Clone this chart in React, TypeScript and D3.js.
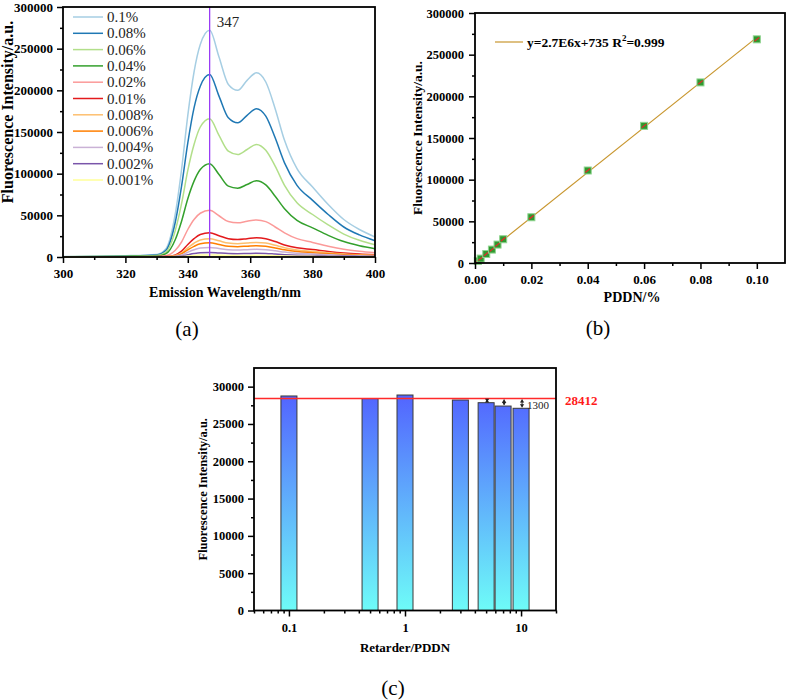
import React, { useEffect, useRef } from 'react';
import * as d3 from 'd3';

const FONT = '"Liberation Serif", "Times New Roman", serif';

// (a) emission spectra, one row per PDDN concentration
const wavelengths = [300, 320, 330, 333, 336, 338, 340, 342, 344, 347, 350, 353, 356, 359, 362, 365, 368, 371, 375, 380, 385, 390, 395, 400];
const spectrumLabels = ['0.1%', '0.08%', '0.06%', '0.04%', '0.02%', '0.01%', '0.008%', '0.006%', '0.004%', '0.002%', '0.001%'];
const spectrumColors = ['#a6cee3', '#1f78b4', '#b2df8a', '#33a02c', '#fb9a99', '#e31a1c', '#fdbf6f', '#ff7f00', '#cab2d6', '#7a55aa', '#ffff99'];
const spectra: number[][] = [
  [500, 1500, 3000, 10000, 52000, 105000, 170000, 222000, 255000, 272000, 240000, 207000, 200000, 212000, 221000, 210000, 178000, 140000, 106000, 84000, 63000, 45000, 33000, 24000],
  [400, 1300, 2500, 8000, 42000, 85000, 137000, 179000, 205000, 219000, 193000, 167000, 161000, 170000, 178000, 169000, 143000, 113000, 86000, 68000, 51000, 36000, 26500, 19500],
  [300, 1000, 1800, 6000, 32000, 64000, 104000, 135000, 156000, 166000, 146000, 127000, 123000, 129000, 135000, 128000, 109000, 86000, 65000, 51000, 38500, 27500, 20000, 14700],
  [200, 700, 1200, 4000, 21000, 43000, 70000, 91000, 105000, 112000, 99000, 85000, 82600, 87000, 91400, 86500, 73000, 58000, 44000, 35000, 26000, 18500, 13500, 10000],
  [100, 400, 600, 1500, 8000, 18000, 33000, 45000, 52500, 56000, 49500, 42500, 41000, 43000, 44500, 42500, 36000, 29000, 22000, 17500, 13000, 9300, 6800, 5000],
  [50, 200, 300, 500, 2500, 7000, 15000, 22000, 27000, 29000, 25500, 22000, 21000, 22000, 23000, 22000, 18500, 14500, 11000, 9000, 6700, 4800, 3500, 2600],
  [40, 150, 250, 400, 1800, 5000, 11000, 16500, 20500, 22000, 19400, 16700, 16000, 16800, 17500, 16700, 14000, 11200, 8500, 6800, 5100, 3700, 2700, 2000],
  [30, 120, 200, 300, 1300, 3800, 8500, 12800, 15800, 17000, 15000, 12900, 12400, 13000, 13600, 12900, 10900, 8700, 6600, 5200, 3900, 2800, 2100, 1500],
  [20, 80, 130, 200, 900, 2500, 5700, 8600, 10700, 11500, 10100, 8700, 8400, 8800, 9200, 8700, 7400, 5900, 4500, 3600, 2700, 1900, 1400, 1000],
  [10, 40, 60, 100, 400, 1200, 2700, 4100, 5100, 5500, 4800, 4200, 4000, 4200, 4400, 4200, 3500, 2800, 2100, 1700, 1300, 900, 700, 500],
  [5, 20, 30, 50, 200, 550, 1200, 1900, 2300, 2500, 2200, 1900, 1800, 1900, 2000, 1900, 1600, 1300, 1000, 800, 600, 400, 300, 250],
];
const peakWavelength = 347;

// (b) calibration
const pddnConc = [0.001, 0.002, 0.004, 0.006, 0.008, 0.01, 0.02, 0.04, 0.06, 0.08, 0.1];
const pddnIntensity = [2400, 5300, 10800, 16100, 22100, 28500, 54900, 111000, 164600, 216700, 268400];
const fitSlope = 2.7e6;
const fitIntercept = 735;

// (c) retarder ratio
const retarderRatio = [0.1, 0.5, 1, 3, 5, 7, 10];
const retarderIntensity = [28750, 28400, 28880, 28210, 27850, 27400, 27100];
const referenceLevel = 28412;
const dropLabel = '1300';

type G = d3.Selection<SVGGElement, unknown, null, undefined>;

function styleAxis(a: G, fontSize: number) {
  a.select('.domain').remove();
  a.selectAll('line').attr('stroke', '#000').attr('stroke-width', 1.5);
  a.selectAll('text')
    .attr('font-family', FONT)
    .attr('font-weight', 'bold')
    .attr('font-size', fontSize)
    .attr('fill', '#000');
}

function frame(g: G, w: number, h: number) {
  g.append('rect')
    .attr('width', w)
    .attr('height', h)
    .attr('fill', 'none')
    .attr('stroke', '#000')
    .attr('stroke-width', 1.8);
}

function drawSpectra(g: G, w: number, h: number) {
  const x = d3.scaleLinear().domain([300, 400]).range([0, w]);
  const y = d3.scaleLinear().domain([0, 300000]).range([h, 0]);

  const line = d3.line<number>()
    .x((_, i) => x(wavelengths[i]))
    .y(d => y(d))
    .curve(d3.curveMonotoneX);

  spectra.forEach((s, i) => {
    g.append('path')
      .datum(s)
      .attr('fill', 'none')
      .attr('stroke', spectrumColors[i])
      .attr('stroke-width', 1.5)
      .attr('d', line);
  });

  // peak marker
  g.append('line')
    .attr('x1', x(peakWavelength)).attr('x2', x(peakWavelength))
    .attr('y1', 0).attr('y2', h)
    .attr('stroke', '#9a3cf5')
    .attr('stroke-width', 1.3);
  g.append('text')
    .attr('x', x(peakWavelength) + 7)
    .attr('y', 20)
    .attr('font-family', FONT)
    .attr('font-size', 15)
    .attr('fill', '#222')
    .text(String(peakWavelength));

  // axes
  const ax = g.append('g').attr('transform', `translate(0,${h})`)
    .call(d3.axisBottom(x).tickValues(d3.range(300, 401, 20)).tickSize(6).tickPadding(6).tickSizeOuter(0));
  styleAxis(ax, 13);
  const axm = g.append('g').attr('transform', `translate(0,${h})`)
    .call(d3.axisBottom(x).tickValues(d3.range(310, 400, 20)).tickSize(3).tickFormat(() => '').tickSizeOuter(0));
  styleAxis(axm, 13);
  const ay = g.append('g')
    .call(d3.axisLeft(y).tickValues(d3.range(0, 300001, 50000)).tickSize(6).tickPadding(4).tickFormat(d3.format('d')).tickSizeOuter(0));
  styleAxis(ay, 13);
  const aym = g.append('g')
    .call(d3.axisLeft(y).tickValues(d3.range(25000, 300000, 50000)).tickSize(3).tickFormat(() => '').tickSizeOuter(0));
  styleAxis(aym, 13);
  frame(g, w, h);

  // legend
  const legend = g.append('g').attr('transform', 'translate(10,10)');
  spectrumLabels.forEach((lab, i) => {
    const row = legend.append('g').attr('transform', `translate(0,${i * 16.3})`);
    row.append('line')
      .attr('x1', 0).attr('x2', 30)
      .attr('stroke', spectrumColors[i])
      .attr('stroke-width', 1.5);
    row.append('text')
      .attr('x', 34).attr('y', 5)
      .attr('font-family', FONT)
      .attr('font-size', 15)
      .attr('fill', '#222')
      .text(lab);
  });

  g.append('text')
    .attr('x', w / 2 + 6).attr('y', h + 40)
    .attr('text-anchor', 'middle')
    .attr('font-family', FONT).attr('font-weight', 'bold').attr('font-size', 14)
    .text('Emission Wavelength/nm');
  g.append('text')
    .attr('transform', `translate(-50,${h / 2 - 20}) rotate(-90)`)
    .attr('text-anchor', 'middle')
    .attr('font-family', FONT).attr('font-weight', 'bold').attr('font-size', 16)
    .text('Fluorescence Intensity/a.u.');
}

function drawCalibration(g: G, w: number, h: number) {
  const x = d3.scaleLinear().domain([0, 0.11]).range([0, w]);
  const y = d3.scaleLinear().domain([0, 300000]).range([h, 0]);

  const fitColor = '#c8962e';
  const fitX = [pddnConc[0], pddnConc[pddnConc.length - 1]];
  g.append('line')
    .attr('x1', x(fitX[0])).attr('y1', y(fitSlope * fitX[0] + fitIntercept))
    .attr('x2', x(fitX[1])).attr('y2', y(fitSlope * fitX[1] + fitIntercept))
    .attr('stroke', fitColor)
    .attr('stroke-width', 1.2);

  const ang = Math.atan2(y(fitSlope * 0.1) - y(0), x(0.1) - x(0));
  pddnConc.forEach((c, i) => {
    const cx = x(c);
    const cy = y(pddnIntensity[i]);
    g.append('rect')
      .attr('x', cx - 3.5).attr('y', cy - 3.5)
      .attr('width', 7).attr('height', 7)
      .attr('fill', '#2f9a2f')
      .attr('stroke', '#8fd48f')
      .attr('stroke-width', 1);
    g.append('line')
      .attr('x1', cx - 3 * Math.cos(ang)).attr('y1', cy - 3 * Math.sin(ang))
      .attr('x2', cx + 3 * Math.cos(ang)).attr('y2', cy + 3 * Math.sin(ang))
      .attr('stroke', '#d8302a')
      .attr('stroke-width', 1.3);
  });

  const ax = g.append('g').attr('transform', `translate(0,${h})`)
    .call(d3.axisBottom(x).tickValues([0, 0.02, 0.04, 0.06, 0.08, 0.1]).tickFormat(d3.format('.2f')).tickSize(6).tickPadding(6).tickSizeOuter(0));
  styleAxis(ax, 13);
  const axm = g.append('g').attr('transform', `translate(0,${h})`)
    .call(d3.axisBottom(x).tickValues([0.01, 0.03, 0.05, 0.07, 0.09]).tickSize(3).tickFormat(() => '').tickSizeOuter(0));
  styleAxis(axm, 13);
  const ay = g.append('g')
    .call(d3.axisLeft(y).tickValues(d3.range(0, 300001, 50000)).tickSize(6).tickPadding(5).tickFormat(d3.format('d')).tickSizeOuter(0));
  styleAxis(ay, 12.5);
  const aym = g.append('g')
    .call(d3.axisLeft(y).tickValues(d3.range(25000, 300000, 50000)).tickSize(3).tickFormat(() => '').tickSizeOuter(0));
  styleAxis(aym, 12.5);
  frame(g, w, h);

  // legend
  g.append('line')
    .attr('x1', 20).attr('x2', 48).attr('y1', 29).attr('y2', 29)
    .attr('stroke', fitColor).attr('stroke-width', 1.2);
  const t = g.append('text')
    .attr('x', 52).attr('y', 34)
    .attr('font-family', FONT).attr('font-weight', 'bold').attr('font-size', 13.5);
  t.append('tspan').text('y=2.7E6x+735 R');
  t.append('tspan').attr('dy', -6).attr('font-size', 9).text('2');
  t.append('tspan').attr('dy', 6).text('=0.999');

  g.append('text')
    .attr('x', w / 2 + 2).attr('y', h + 39)
    .attr('text-anchor', 'middle')
    .attr('font-family', FONT).attr('font-weight', 'bold').attr('font-size', 14)
    .text('PDDN/%');
  g.append('text')
    .attr('transform', `translate(-53,${h / 2}) rotate(-90)`)
    .attr('text-anchor', 'middle')
    .attr('font-family', FONT).attr('font-weight', 'bold').attr('font-size', 13.5)
    .text('Fluorescence Intensity/a.u.');
}

function drawRetarder(g: G, defs: d3.Selection<SVGDefsElement, unknown, null, undefined>, w: number, h: number) {
  const x = d3.scaleLog().domain([0.05, 20]).range([0, w]);
  const y = d3.scaleLinear().domain([0, 32500]).range([h, 0]);
  const barW = 16;

  const grad = defs.append('linearGradient')
    .attr('id', 'barGrad')
    .attr('gradientUnits', 'userSpaceOnUse')
    .attr('x1', 0).attr('y1', y(29000))
    .attr('x2', 0).attr('y2', h);
  grad.append('stop').attr('offset', '0%').attr('stop-color', '#5264ff');
  grad.append('stop').attr('offset', '100%').attr('stop-color', '#6efcf8');

  g.selectAll('.bar')
    .data(retarderRatio)
    .enter().append('rect')
    .attr('class', 'bar')
    .attr('x', d => x(d) - barW / 2)
    .attr('y', (_, i) => y(retarderIntensity[i]))
    .attr('width', barW)
    .attr('height', (_, i) => h - y(retarderIntensity[i]))
    .attr('fill', 'url(#barGrad)')
    .attr('stroke', '#3a3a3a')
    .attr('stroke-width', 1);

  g.append('line')
    .attr('x1', 0).attr('x2', w)
    .attr('y1', y(referenceLevel)).attr('y2', y(referenceLevel))
    .attr('stroke', '#ff2a2a').attr('stroke-width', 1.3);

  // drop arrows for the last three bars
  [4, 5, 6].forEach(i => {
    const cx = x(retarderRatio[i]) + 1;
    const y1 = y(referenceLevel) + 1;
    const y2 = y(retarderIntensity[i]) - 1;
    g.append('line')
      .attr('x1', cx).attr('x2', cx).attr('y1', y1).attr('y2', y2)
      .attr('stroke', '#222').attr('stroke-width', 1);
    [[y1, 1], [y2, -1]].forEach(([yy, dir]) => {
      g.append('path')
        .attr('d', `M${cx - 2.2},${yy + dir * 3}L${cx},${yy}L${cx + 2.2},${yy + dir * 3}Z`)
        .attr('fill', '#222');
    });
  });
  g.append('text')
    .attr('x', x(retarderRatio[6]) + 6).attr('y', y(referenceLevel) + 10)
    .attr('font-family', FONT).attr('font-size', 11).attr('fill', '#222')
    .text(dropLabel);
  g.append('text')
    .attr('x', w + 9).attr('y', y(referenceLevel) + 6)
    .attr('font-family', FONT).attr('font-weight', 'bold').attr('font-size', 13)
    .attr('fill', '#ff1a1a')
    .text(String(referenceLevel));

  const majors = [0.1, 1, 10];
  const ax = g.append('g').attr('transform', `translate(0,${h})`)
    .call(d3.axisBottom(x).tickValues(majors).tickFormat(d => String(d)).tickSize(6).tickPadding(7).tickSizeOuter(0));
  styleAxis(ax, 12.5);
  const axm = g.append('g').attr('transform', `translate(0,${h})`)
    .call(d3.axisBottom(x).tickValues(x.ticks().filter(v => !majors.includes(v))).tickSize(3).tickFormat(() => '').tickSizeOuter(0));
  styleAxis(axm, 12.5);
  const ay = g.append('g')
    .call(d3.axisLeft(y).tickValues(d3.range(0, 30001, 5000)).tickSize(6).tickPadding(4).tickFormat(d3.format('d')).tickSizeOuter(0));
  styleAxis(ay, 12.5);
  const aym = g.append('g')
    .call(d3.axisLeft(y).tickValues(d3.range(2500, 32500, 5000)).tickSize(3).tickFormat(() => '').tickSizeOuter(0));
  styleAxis(aym, 12.5);
  frame(g, w, h);

  g.append('text')
    .attr('x', w / 2).attr('y', h + 41)
    .attr('text-anchor', 'middle')
    .attr('font-family', FONT).attr('font-weight', 'bold').attr('font-size', 13)
    .text('Retarder/PDDN');
  g.append('text')
    .attr('transform', `translate(-47,${h / 2}) rotate(-90)`)
    .attr('text-anchor', 'middle')
    .attr('font-family', FONT).attr('font-weight', 'bold').attr('font-size', 12.5)
    .text('Fluorescence Intensity/a.u.');
}

export default function App() {
  const svgRef = useRef<SVGSVGElement>(null);

  useEffect(() => {
    if (!svgRef.current) return;
    const svg = d3.select(svgRef.current);
    svg.selectAll('*').remove();
    const defs = svg.append('defs');

    drawSpectra(svg.append('g').attr('transform', 'translate(63,7)') as G, 312, 250);
    drawCalibration(svg.append('g').attr('transform', 'translate(475,13)') as G, 310, 250);
    drawRetarder(svg.append('g').attr('transform', 'translate(254,368)') as G, defs, 302, 242.5);

    const panelLabels: [string, number, number][] = [['(a)', 187, 336], ['(b)', 598, 335], ['(c)', 393, 695]];
    panelLabels.forEach(([t, px, py]) => {
      svg.append('text')
        .attr('x', px).attr('y', py)
        .attr('text-anchor', 'middle')
        .attr('font-family', FONT).attr('font-size', 21)
        .text(t);
    });
  }, []);

  return (
    <svg
      ref={svgRef}
      width={787}
      height={700}
      style={{ position: 'absolute', left: 0, top: 0, background: '#fff' }}
    />
  );
}
